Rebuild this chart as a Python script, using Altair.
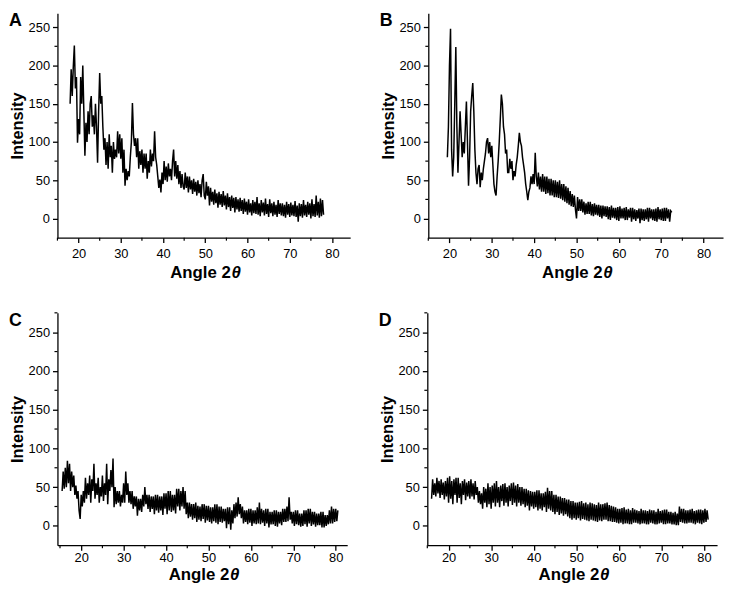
import altair as alt
import pandas as pd

FONT = "Liberation Sans"
STEP = 0.25  # scan step (degrees 2-theta) of the digitised patterns

# ---- Panel A (start 18.0) ----
A_START = 18.0
A_INT = [150, 195, 160, 198, 226, 170, 185, 99, 130, 110, 185, 150,
         200, 140, 82, 125, 100, 140, 110, 150, 160, 120, 135, 110,
         150, 120, 73, 140, 190, 150, 160, 120, 90, 105, 70, 100,
         65, 110, 80, 95, 60, 100, 78, 90, 80, 114, 85, 110,
         78, 105, 60, 90, 43, 65, 50, 62, 55, 80, 100, 151,
         110, 95, 105, 80, 105, 65, 88, 70, 90, 60, 85, 65,
         85, 52, 75, 60, 90, 68, 85, 75, 114, 80, 70, 55,
         40, 51, 34, 60, 45, 75, 50, 68, 48, 72, 55, 65,
         50, 75, 90, 55, 75, 52, 70, 45, 62, 40, 58, 42,
         38, 60, 40, 55, 34, 55, 38, 50, 32, 52, 35, 48,
         30, 50, 33, 45, 28, 50, 58, 30, 25, 48, 30, 42,
         17, 40, 22, 35, 18, 38, 20, 33, 14, 35, 18, 32,
         15, 36, 17, 30, 12, 33, 15, 28, 10, 30, 14, 27,
         8, 28, 12, 25, 9, 27, 10, 24, 6, 26, 9, 22,
         5, 25, 8, 20, 4, 24, 7, 22, 6, 28, 5, 20,
         3, 24, 8, 21, 4, 26, 6, 19, 2, 25, 7, 20,
         3, 22, 5, 18, 2, 24, 6, 20, 4, 20, 3, 18,
         1, 22, 5, 19, 2, 21, 4, 18, 3, 23, 2, 17,
         -4, 20, 3, 19, 1, 24, 4, 18, 2, 22, 5, 20,
         0, 25, 3, 19, 2, 30, 4, 22, 1, 26, 3, 24,
         5]

# ---- Panel B (start 19.5) ----
B_START = 19.5
B_INT = [80, 120,
         200, 248, 90, 55, 80, 150, 224, 120, 60, 100, 140, 110,
         80, 100, 85, 120, 153, 100, 43, 80, 140, 160, 177, 140,
         90, 60, 45, 65, 70, 41, 60, 50, 65, 75, 85, 100,
         105, 85, 100, 80, 95, 70, 45, 35, 30, 55, 75, 100,
         130, 162, 150, 120, 110, 85, 90, 60, 60, 78, 65, 75,
         50, 62, 55, 70, 80, 95, 112, 100, 95, 80, 70, 60,
         45, 35, 24, 35, 40, 55, 45, 58, 45, 86, 55, 42,
         60, 38, 55, 35, 58, 35, 55, 32, 55, 33, 52, 30,
         52, 30, 50, 28, 50, 28, 48, 27, 50, 26, 45, 24,
         45, 22, 42, 20, 40, 18, 36, 16, 32, 15, 30, 12,
         0, 28, 10, 25, 10, 25, 8, 22, 5, 20, 6, 22,
         6, 22, 4, 19, 3, 20, 5, 18, 4, 18, 2, 17,
         0, 17, 3, 16, 2, 16, -1, 15, -2, 17, 1, 14,
         0, 14, -2, 15, -3, 16, 0, 13, 0, 14, -2, 15,
         -2, 12, 1, 14, -4, 14, -1, 12, -3, 11, 0, 13,
         -6, 13, -2, 12, -3, 12, -1, 14, -4, 14, 0, 12,
         -2, 12, -3, 13, -4, 15, -1, 12, -2, 13, -3, 14,
         -3, 14, 0, 12, -4, 10, 8]

# ---- Panel C (start 15.5) ----
C_START = 15.5
C_INT = [45, 70,
         48, 75, 50, 84, 55, 80, 45, 70, 50, 65, 40, 52,
         35, 45, 20, 9, 40, 25, 45, 30, 62, 35, 55, 40,
         65, 30, 60, 45, 80, 35, 55, 40, 62, 30, 50, 38,
         65, 32, 55, 40, 80, 28, 60, 45, 72, 50, 87, 24,
         50, 28, 45, 30, 45, 25, 40, 30, 55, 30, 70, 40,
         55, 30, 45, 28, 45, 22, 38, 25, 38, 13, 35, 20,
         35, 18, 40, 25, 50, 28, 40, 22, 40, 18, 38, 22,
         38, 15, 40, 20, 40, 17, 38, 20, 38, 14, 42, 22,
         42, 15, 45, 20, 45, 18, 40, 20, 40, 16, 48, 25,
         48, 20, 45, 25, 50, 22, 45, 15, 30, 10, 30, 12,
         28, 8, 28, 10, 30, 5, 26, 8, 25, 6, 28, 9,
         28, 4, 26, 7, 26, 5, 24, 3, 24, 6, 28, 4,
         28, 2, 25, 5, 25, 4, 22, 6, 22, -3, 24, 2,
         24, -5, 20, 3, 28, 10, 30, 12, 37, 15, 28, 10,
         25, 3, 20, 5, 20, 2, 22, 4, 22, 0, 20, 3,
         20, 2, 24, 3, 30, 2, 22, 4, 20, 0, 22, 3,
         22, -2, 18, 2, 18, 2, 20, 0, 20, -1, 18, 3,
         18, 1, 22, 5, 22, 5, 25, 6, 37, 8, 18, 3,
         18, 0, 20, 2, 20, 1, 16, -1, 16, 0, 20, 2,
         20, -1, 22, 3, 22, 0, 18, 2, 18, -1, 16, 1,
         16, 1, 18, -2, 18, -2, 14, 0, 14, 2, 20, 3,
         25, 3, 22, 5, 22, 6, 20]

# ---- Panel D (start 16.0) ----
D_START = 16.0
D_INT = [35, 60, 40, 55, 38, 62, 42, 58, 36, 60, 40, 56,
         34, 58, 38, 62, 30, 64, 35, 58, 28, 60, 40, 62,
         30, 62, 36, 55, 28, 58, 40, 60, 33, 56, 38, 58,
         35, 60, 38, 55, 34, 58, 40, 50, 30, 45, 28, 42,
         22, 50, 30, 48, 24, 55, 28, 50, 22, 52, 30, 55,
         25, 58, 30, 50, 24, 52, 32, 54, 26, 55, 30, 50,
         25, 52, 32, 55, 27, 56, 30, 52, 25, 54, 30, 50,
         26, 50, 28, 48, 24, 48, 26, 46, 20, 45, 25, 44,
         22, 44, 24, 46, 20, 46, 22, 42, 20, 42, 24, 44,
         18, 49, 22, 45, 20, 45, 18, 40, 15, 40, 18, 38,
         14, 38, 16, 36, 13, 36, 15, 34, 12, 34, 10, 32,
         8, 32, 10, 30, 8, 30, 10, 31, 7, 32, 9, 29,
         8, 30, 7, 28, 6, 30, 8, 29, 7, 28, 6, 27,
         5, 30, 7, 28, 6, 28, 8, 29, 8, 30, 6, 27,
         6, 26, 5, 25, 5, 24, 4, 22, 3, 22, 4, 23,
         2, 24, 3, 21, 3, 22, 2, 20, 2, 23, 4, 21,
         4, 20, 3, 19, 2, 22, 3, 20, 3, 20, 2, 19,
         2, 21, 4, 20, 3, 20, 2, 18, 2, 22, 3, 19,
         4, 20, 2, 21, 2, 21, 3, 18, 3, 18, 2, 17,
         2, 18, 1, 16, 1, 25, 5, 22, 4, 22, 3, 20,
         3, 20, 4, 21, 4, 22, 3, 19, 2, 20, 4, 21,
         3, 21, 2, 20, 4, 22, 5, 20, 8]

X_MAJOR = [20, 30, 40, 50, 60, 70, 80]
X_MINOR = [15, 25, 35, 45, 55, 65, 75]
Y_MAJOR = [0, 50, 100, 150, 200, 250]
Y_MINOR = [25, 75, 125, 175, 225, 275]
X_TITLE = ["Angle 2", "θ"]
Y_TITLE = "Intensity"


def panel(label, start, vals, xdom, ydom, w, h, lab_pad, title_gap):
    angles = [start + i * STEP for i in range(len(vals))]
    df = pd.DataFrame({"angle": angles, "intensity": vals})
    xs = alt.Scale(domain=xdom, nice=False, zero=False)
    ys = alt.Scale(domain=ydom, nice=False, zero=False)
    xax = alt.Axis(values=X_MAJOR, title=None, labelPadding=lab_pad)
    yax = alt.Axis(values=Y_MAJOR, title=Y_TITLE, labelPadding=3, titlePadding=3,
                   titleFontSize=16.5)
    line = alt.Chart(df).mark_line(color="#000000", strokeWidth=1.5).encode(
        x=alt.X("angle:Q", scale=xs, axis=xax),
        y=alt.Y("intensity:Q", scale=ys, axis=yax),
    )
    xm = [v for v in X_MINOR if xdom[0] <= v <= xdom[1]]
    ym = [v for v in Y_MINOR if ydom[0] <= v <= ydom[1]]
    xminor = alt.Chart(pd.DataFrame({"m": xm})).mark_rule(color="#000000", strokeWidth=1.2).encode(
        x=alt.X("m:Q", scale=xs, axis=xax), y=alt.value(h), y2=alt.value(h + 3))
    yminor = alt.Chart(pd.DataFrame({"m": ym})).mark_rule(color="#000000", strokeWidth=1.2).encode(
        y=alt.Y("m:Q", scale=ys, axis=yax), x=alt.value(-3), x2=alt.value(0))
    txt = alt.Chart(pd.DataFrame({"t": [label]})).mark_text(
        font=FONT, fontSize=18, fontWeight="bold", align="left", baseline="alphabetic",
        color="#000000").encode(x=alt.value(-49), y=alt.value(13), text="t:N")
    x0 = w / 2 - 34
    t1 = alt.Chart(pd.DataFrame({"t": [X_TITLE[0]]})).mark_text(
        font=FONT, fontSize=17, fontWeight="bold", align="left", baseline="alphabetic",
        color="#000000").encode(x=alt.value(x0), y=alt.value(h + title_gap), text="t:N")
    t2 = alt.Chart(pd.DataFrame({"t": [X_TITLE[1]]})).mark_text(
        font=FONT, fontSize=17, fontWeight="bold", fontStyle="italic", align="left",
        baseline="alphabetic", color="#000000").encode(
        x=alt.value(x0 + 62), y=alt.value(h + title_gap), text="t:N")
    return alt.layer(line, xminor, yminor, txt, t1, t2).properties(width=w, height=h)


pA = panel("A", A_START, A_INT, [15, 84.3], [-25, 268.3], 296, 227, 5, 41)
pB = panel("B", B_START, B_INT, [15, 84.6], [-25, 268.3], 298, 227, 5, 41)
pC = panel("C", C_START, C_INT, [14.4, 82.7], [-25, 275], 293, 235, 1, 35)
pD = panel("D", D_START, D_INT, [15, 83.1], [-25, 275], 293, 235, 1, 35)

chart = alt.vconcat(
    alt.hconcat(pA, pB, spacing=28),
    alt.hconcat(pC, pD, spacing=30),
    spacing=29,
).properties(
    padding={"left": 0, "top": 0, "right": 0, "bottom": 0}
).configure(padding={"left": 0, "top": 0, "right": 0, "bottom": 0}).configure_view(
    stroke="transparent"
).configure_axis(
    grid=False,
    domainColor="#000000", domainWidth=1.3,
    tickColor="#000000", tickWidth=1.3, tickSize=5,
    labelColor="#000000", labelFont=FONT, labelFontSize=13,
    titleColor="#000000", titleFont=FONT, titleFontSize=17, titleFontWeight="bold",
)

chart.save("out.html", embed_options={"renderer": "svg", "actions": False})
